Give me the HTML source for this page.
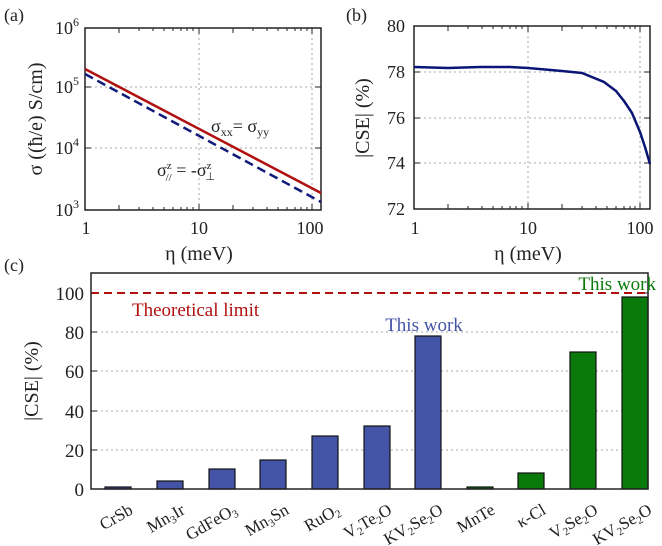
<!DOCTYPE html><html><head><style>body{margin:0;background:#fff}svg{display:block}text{font-family:"Liberation Serif",serif;fill:#222}</style></head><body>
<svg width="662" height="546" viewBox="0 0 662 546" xmlns="http://www.w3.org/2000/svg">
<text x="4" y="21" font-size="18">(a)</text>
<g stroke="#aaa" stroke-dasharray="2,3" stroke-width="1">
<line x1="199" y1="28" x2="199" y2="210"/><line x1="312" y1="28" x2="312" y2="210"/>
<line x1="85" y1="87" x2="321" y2="87"/><line x1="85" y1="148" x2="321" y2="148"/>
</g>
<g stroke="#222" stroke-width="1">
<path d="M119 210v-5M139 210v-3M153 210v-3M164 210v-3M173 210v-3M181 210v-3M187 210v-3M193 210v-3M233 210v-5M253 210v-3M267 210v-3M278 210v-3M287 210v-3M295 210v-3M301 210v-3M307 210v-3M199 210v-6M312 210v-6"/>
<path d="M119 28v5M139 28v3M153 28v3M164 28v3M173 28v3M181 28v3M187 28v3M193 28v3M233 28v5M253 28v3M267 28v3M278 28v3M287 28v3M295 28v3M301 28v3M307 28v3M199 28v6M312 28v6"/>
<path d="M85 87h6M85 148h6M321 87h-6M321 148h-6"/>
</g>
<rect x="85" y="28" width="236" height="182" fill="none" stroke="#222" stroke-width="1.5"/>
<line x1="85" y1="69" x2="321" y2="193" stroke="#b01010" stroke-width="2.5"/>
<line x1="85" y1="74" x2="321" y2="202" stroke="#101a7a" stroke-width="2.5" stroke-dasharray="9,5"/>
<text x="211" y="132" font-size="18">σ<tspan font-size="12" dy="4">xx</tspan><tspan dy="-4">= σ</tspan><tspan font-size="12" dy="4">yy</tspan></text>
<text x="157" y="176" font-size="18">σ<tspan font-size="11" dy="-7">z</tspan><tspan font-size="11" dx="-6" dy="12">//</tspan><tspan dy="-5"> = -σ</tspan><tspan font-size="11" dy="-7">z</tspan><tspan font-size="11" dx="-6" dy="11">⊥</tspan></text>
<g font-size="18" text-anchor="end"><text x="79" y="34">10<tspan font-size="12" dy="-8">6</tspan></text><text x="79" y="93">10<tspan font-size="12" dy="-8">5</tspan></text><text x="79" y="154">10<tspan font-size="12" dy="-8">4</tspan></text><text x="79" y="216">10<tspan font-size="12" dy="-8">3</tspan></text></g>
<g font-size="18" text-anchor="middle"><text x="86" y="234">1</text><text x="199" y="234">10</text><text x="310" y="234">100</text></g>
<text x="199" y="260" font-size="20" text-anchor="middle">η (meV)</text>
<text transform="translate(42,119) rotate(-90)" font-size="20" text-anchor="middle">σ ((ħ/e) S/cm)</text>
<text x="346" y="21" font-size="18">(b)</text>
<g stroke="#aaa" stroke-dasharray="2,3">
<line x1="528" y1="26" x2="528" y2="209"/><line x1="640" y1="26" x2="640" y2="209"/>
<line x1="414" y1="72" x2="650" y2="72"/><line x1="414" y1="118" x2="650" y2="118"/><line x1="414" y1="163" x2="650" y2="163"/>
</g>
<g stroke="#222">
<path d="M448 209v-5M468 209v-3M482 209v-3M493 209v-3M502 209v-3M510 209v-3M516 209v-3M522 209v-3M562 209v-5M582 209v-3M596 209v-3M607 209v-3M616 209v-3M624 209v-3M630 209v-3M635 209v-3M528 209v-6M640 209v-6"/>
<path d="M448 26v5M468 26v3M482 26v3M493 26v3M502 26v3M510 26v3M516 26v3M522 26v3M562 26v5M582 26v3M596 26v3M607 26v3M616 26v3M624 26v3M630 26v3M635 26v3M528 26v6M640 26v6"/>
<path d="M414 72h6M414 118h6M414 163h6M650 72h-6M650 118h-6M650 163h-6"/>
</g>
<rect x="414" y="26" width="236" height="183" fill="none" stroke="#222" stroke-width="1.5"/>
<path d="M414 67 L448 68 L480 67 L510 67 L528 68 L562 71 L582 73 L604 82 L616 91 L624 101 L632 113 L640 132 L645 147 L650 164" fill="none" stroke="#0a1575" stroke-width="2.5"/>
<g font-size="18" text-anchor="end"><text x="405" y="32">80</text><text x="405" y="78">78</text><text x="405" y="124">76</text><text x="405" y="169">74</text><text x="405" y="215">72</text></g>
<g font-size="18" text-anchor="middle"><text x="415" y="234">1</text><text x="528" y="234">10</text><text x="640" y="234">100</text></g>
<text x="528" y="260" font-size="20" text-anchor="middle">η (meV)</text>
<text transform="translate(369,118) rotate(-90)" font-size="20" text-anchor="middle">|CSE| (%)</text>
<text x="4" y="271" font-size="18">(c)</text>
<g stroke="#aaa" stroke-dasharray="2,3">
<line x1="91" y1="332" x2="648" y2="332"/><line x1="91" y1="371" x2="648" y2="371"/><line x1="91" y1="411" x2="648" y2="411"/><line x1="91" y1="450" x2="648" y2="450"/>
</g>
<g stroke="#222"><path d="M91 293h6M91 332h6M91 371h6M91 411h6M91 450h6M648 293h-6M648 332h-6M648 371h-6M648 411h-6M648 450h-6"/></g>
<g stroke="#111" stroke-width="1.2">
<rect x="105" y="487" width="26" height="2" fill="#4455a8"/>
<rect x="157" y="481" width="26" height="8" fill="#4455a8"/>
<rect x="209" y="469" width="26" height="20" fill="#4455a8"/>
<rect x="260" y="460" width="26" height="29" fill="#4455a8"/>
<rect x="312" y="436" width="26" height="53" fill="#4455a8"/>
<rect x="364" y="426" width="26" height="63" fill="#4455a8"/>
<rect x="415" y="336" width="26" height="153" fill="#4455a8"/>
<rect x="467" y="487" width="26" height="2" fill="#0a7a0a"/>
<rect x="518" y="473" width="26" height="16" fill="#0a7a0a"/>
<rect x="570" y="352" width="26" height="137" fill="#0a7a0a"/>
<rect x="622" y="297" width="26" height="192" fill="#0a7a0a"/>
</g>
<line x1="91" y1="293" x2="648" y2="293" stroke="#b01010" stroke-width="2" stroke-dasharray="8,5"/>
<rect x="91" y="273" width="557" height="216" fill="none" stroke="#222" stroke-width="1.5"/>
<g font-size="19" text-anchor="end"><text x="84" y="300">100</text><text x="84" y="339">80</text><text x="84" y="378">60</text><text x="84" y="418">40</text><text x="84" y="457">20</text><text x="84" y="496">0</text></g>
<text transform="translate(38,381) rotate(-90)" font-size="20" text-anchor="middle">|CSE| (%)</text>
<text x="132" y="316" font-size="19" style="fill:#b01010">Theoretical limit</text>
<text x="424" y="331" font-size="19" text-anchor="middle" style="fill:#4455a8">This work</text>
<text x="656" y="290" font-size="19" text-anchor="end" style="fill:#0a7a0a">This work</text>
<g font-size="17" text-anchor="end">
<text transform="translate(134,513) rotate(-30)">CrSb</text>
<text transform="translate(186,513) rotate(-30)">Mn<tspan font-size="11" dy="3">3</tspan><tspan dy="-3">Ir</tspan></text>
<text transform="translate(238,513) rotate(-30)">GdFeO<tspan font-size="11" dy="3">3</tspan></text>
<text transform="translate(290,513) rotate(-30)">Mn<tspan font-size="11" dy="3">3</tspan><tspan dy="-3">Sn</tspan></text>
<text transform="translate(341,513) rotate(-30)">RuO<tspan font-size="11" dy="3">2</tspan></text>
<text transform="translate(393,513) rotate(-30)">V<tspan font-size="11" dy="3">2</tspan><tspan dy="-3">Te</tspan><tspan font-size="11" dy="3">2</tspan><tspan dy="-3">O</tspan></text>
<text transform="translate(444,513) rotate(-30)">KV<tspan font-size="11" dy="3">2</tspan><tspan dy="-3">Se</tspan><tspan font-size="11" dy="3">2</tspan><tspan dy="-3">O</tspan></text>
<text transform="translate(496,513) rotate(-30)">MnTe</text>
<text transform="translate(547,513) rotate(-30)">κ-Cl</text>
<text transform="translate(599,513) rotate(-30)">V<tspan font-size="11" dy="3">2</tspan><tspan dy="-3">Se</tspan><tspan font-size="11" dy="3">2</tspan><tspan dy="-3">O</tspan></text>
<text transform="translate(653,513) rotate(-30)">KV<tspan font-size="11" dy="3">2</tspan><tspan dy="-3">Se</tspan><tspan font-size="11" dy="3">2</tspan><tspan dy="-3">O</tspan></text>
</g>
</svg>
</body></html>
